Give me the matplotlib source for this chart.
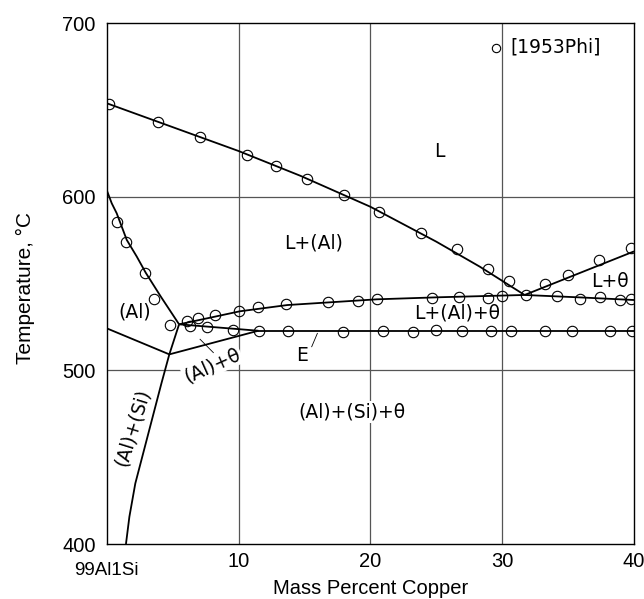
import matplotlib
matplotlib.use("Agg")
import matplotlib.pyplot as plt
from matplotlib.transforms import ScaledTranslation

plt.rcParams['font.family'] = ['Liberation Sans', 'DejaVu Sans']

# phase boundary lines (mass % Cu, temperature C)
liq_x = [0, 10, 14.7, 20, 25, 28.3, 31.7]
liq_T = [653.8, 626.3, 612, 594.2, 574.1, 559.7, 543.4]
ltheta_x = [31.7, 40]
ltheta_T = [543.4, 568.5]
upper_x = [5.49, 8.2, 10.1, 13.7, 20.5, 25.3, 31.7, 35.9, 40]
upper_T = [526.5, 530.9, 534.0, 537.6, 540.9, 542.1, 543.4, 542.0, 540.5]
tri_x = [5.49, 11.5]
tri_T = [526.5, 522.8]
e_x = [11.5, 40]
e_T = [522.8, 522.8]
v_x = [0, 4.75, 11.5]
v_T = [524.2, 509.2, 522.8]
al_x = [0, 0.38, 0.76, 1.52, 2.28, 2.96, 4.1, 5.49]
al_T = [603.8, 596.2, 590.4, 575.1, 565.5, 556.2, 542.5, 526.5]
alsi_x = [5.49, 4.75, 4.15, 3.49, 2.83, 2.17, 1.72, 1.46]
alsi_T = [526.5, 509.2, 492.5, 473.3, 454.1, 434.9, 415.7, 400]

# experimental points [1953Phi]
pts_x = [0.2, 3.9, 7.06, 10.62, 12.82, 15.17, 17.97, 20.68, 23.87, 26.56, 28.89, 30.49, 31.8,
         33.26, 35.02, 37.35, 39.78,
         0.76, 1.45, 2.94, 3.6, 4.8,
         6.12, 6.95, 8.22, 10.06, 11.5, 13.58, 16.77, 19.1, 20.54, 24.68, 26.73, 28.95, 29.97,
         34.15, 35.87, 37.4, 38.95, 39.78,
         6.32, 7.59, 9.56,
         11.58, 13.76, 17.93, 20.99, 23.24, 25.01, 26.94, 29.18, 30.68, 33.23, 35.3, 38.21, 39.83]
pts_T = [653.4, 643.0, 634.5, 624.2, 617.7, 610.2, 601.0, 591.0, 578.9, 570.0, 558.6, 551.3, 543.6,
         549.5, 554.9, 563.8, 570.2,
         585.6, 574.1, 556.1, 540.8, 526.1,
         528.6, 529.9, 531.9, 534.2, 536.3, 538.2, 539.2, 540.1, 540.9, 541.5, 542.1, 541.7, 542.6,
         542.8, 541.3, 542.2, 540.5, 541.1,
         525.5, 525.1, 523.2,
         522.8, 522.5, 521.9, 522.5, 522.3, 523.2, 522.5, 522.5, 522.8, 522.8, 522.8, 522.8, 522.8]

fig = plt.figure(figsize=(6.44, 5.99), dpi=100)
ax = fig.add_axes([0.1657, 0.0918, 0.8188, 0.8698])
ax.set_xlim(0, 40)
ax.set_ylim(400, 700)

for v in [10, 20, 30]:
    ax.axvline(v, color='#555555', lw=0.9, zorder=1)
for v in [500, 600]:
    ax.axhline(v, color='#555555', lw=0.9, zorder=1)

lw = 1.3
for xs, ts in [(liq_x, liq_T), (ltheta_x, ltheta_T), (upper_x, upper_T), (tri_x, tri_T),
               (e_x, e_T), (v_x, v_T), (al_x, al_T), (alsi_x, alsi_T)]:
    ax.plot(xs, ts, color='black', lw=lw, zorder=3, solid_capstyle='butt')

ax.plot(pts_x, pts_T, 'o', ms=7.5, mfc='none', mec='black', mew=0.8, zorder=4)

lab = dict(fontsize=13.5, family='DejaVu Sans', ha='center', va='center')
box = dict(facecolor='white', edgecolor='none', pad=1)

# legend marker
ax.plot([29.5], [685.8], 'o', ms=6, mfc='none', mec='black', mew=0.8, clip_on=False)
ax.text(30.6, 686, '[1953Phi]', fontsize=13.5, family='DejaVu Sans', ha='left', va='center')

ax.text(25.2, 626, 'L', **lab)
ax.text(15.7, 573.5, 'L+(Al)', **lab)
ax.text(38.2, 551, 'L+θ', **lab)
ax.text(26.6, 532.8, 'L+(Al)+θ', **lab)
ax.text(2.15, 533.8, '(Al)', **lab)
ax.text(8.0, 503, '(Al)+θ', rotation=24, bbox=box, zorder=2, **lab)
ax.text(14.8, 508.8, 'E', **lab)
ax.text(18.6, 476, '(Al)+(Si)+θ', bbox=box, zorder=2, **lab)
ax.text(1.96, 467.4, '(Al)+(Si)', rotation=72.8, **lab)

# leader lines
ax.plot([7.08, 8.09], [517.9, 510.2], color='black', lw=0.6, zorder=3)
ax.plot([15.55, 15.98], [513.6, 521.3], color='black', lw=0.6, zorder=3)

ax.set_xticks([0, 10, 20, 30, 40])
ax.set_xticklabels(['99Al1Si', '10', '20', '30', '40'])
ax.set_yticks([400, 500, 600, 700])
ax.tick_params(length=0, labelsize=14.5, pad=6)
ax.tick_params(axis='y', pad=8)
first = ax.get_xticklabels()[0]
first.set_fontsize(13.5)
first.set_transform(first.get_transform() + ScaledTranslation(0, -7 / 72, fig.dpi_scale_trans))
for s in ax.spines.values():
    s.set_linewidth(1.0)

fig.text(0.575, 0.018, 'Mass Percent Copper', fontsize=14.5, ha='center', va='center')
fig.text(0.039, 0.519, 'Temperature, °C', fontsize=15, ha='center', va='center', rotation=90)

fig.savefig('out.png', dpi=100)
